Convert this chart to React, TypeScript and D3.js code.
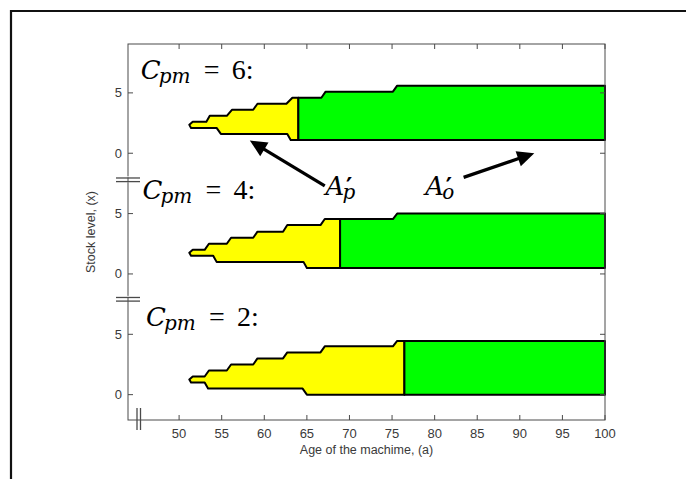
import React from "react";
import * as d3 from "d3";

// ---------- data ----------
const ageTicks = [50, 55, 60, 65, 70, 75, 80, 85, 90, 95, 100];
const levelTicks = [0, 5];
const panelCpm = [2, 4, 6];
const panelOffset = [0, 10, 20];

// Cpm = 2
const upperAges2 = [51.2, 51.6, 53.0, 53.5, 55.6, 56.1, 58.7, 59.2, 62.2, 62.7, 66.6, 67.1, 75.1, 75.6, 100];
const upperLevels2 = [1.25, 1.5, 1.5, 2.0, 2.0, 2.5, 2.5, 3.0, 3.0, 3.5, 3.5, 4.0, 4.0, 4.45, 4.45];
const lowerAges2 = [51.2, 51.4, 53.0, 53.4, 64.5, 65.0, 100];
const lowerLevels2 = [1.25, 1.0, 1.0, 0.5, 0.5, 0.0, 0.0];
const switch2 = 76.45;

// Cpm = 4
const upperAges4 = [51.2, 51.6, 53.0, 53.5, 55.6, 56.1, 58.7, 59.2, 62.2, 62.7, 66.6, 67.1, 75.1, 75.6, 100];
const upperLevels4 = [1.75, 2.0, 2.0, 2.5, 2.5, 3.0, 3.0, 3.5, 3.5, 4.05, 4.05, 4.55, 4.55, 5.0, 5.0];
const lowerAges4 = [51.2, 51.4, 54.0, 54.4, 64.6, 65.0, 100];
const lowerLevels4 = [1.75, 1.5, 1.5, 1.0, 1.0, 0.5, 0.5];
const switch4 = 68.9;

// Cpm = 6
const upperAges6 = [51.2, 51.6, 53.2, 53.6, 55.6, 56.2, 58.7, 59.2, 62.6, 63.3, 66.7, 67.2, 75.1, 75.6, 100];
const upperLevels6 = [2.35, 2.6, 2.6, 3.1, 3.1, 3.6, 3.6, 4.1, 4.1, 4.6, 4.6, 5.1, 5.1, 5.6, 5.6];
const lowerAges6 = [51.2, 51.4, 54.4, 54.9, 62.7, 63.1, 100];
const lowerLevels6 = [2.35, 2.1, 2.1, 1.6, 1.6, 1.1, 1.1];
const switch6 = 64.0;

const panels = [
  { ua: upperAges2, ul: upperLevels2, la: lowerAges2, ll: lowerLevels2, sw: switch2 },
  { ua: upperAges4, ul: upperLevels4, la: lowerAges4, ll: lowerLevels4, sw: switch4 },
  { ua: upperAges6, ul: upperLevels6, la: lowerAges6, ll: lowerLevels6, sw: switch6 },
];

// annotation anchors (data coords: age, stacked level)
const cpmLabelAge = [46.1, 45.7, 45.5];
const cpmLabelLevel = [5.65, 16.2, 26.15];
const arrowTailAge = [67.1, 83.4];
const arrowTailLevel = [17.3, 18.0];
const arrowHeadAge = [58.3, 91.7];
const arrowHeadLevel = [21.05, 20.0];
const primeLabelAge = [67.2, 78.9];
const primeLabelLevel = [16.5, 16.5];
const primeLabelSub = ["p", "o"];

// ---------- layout ----------
const W = 686;
const H = 479;
const x = d3.scaleLinear().domain([44, 100]).range([128, 605]);
const y = d3.scaleLinear().domain([-2.1, 29.05]).range([420, 44]);

const axisColor = "#4a4a4a";
const textColor = "#3a3a3a";
const italicFont = "'DejaVu Serif', serif";
const uprightFont = "'Liberation Serif', 'DejaVu Serif', serif";
const axisFont = "'Liberation Sans', Arial, sans-serif";

function buildPolys(p: any, off: number) {
  const up = d3.scaleLinear().domain(p.ua).range(p.ul);
  const lo = d3.scaleLinear().domain(p.la).range(p.ll);
  const U: [number, number][] = p.ua.map((a: number, i: number) => [a, p.ul[i]]);
  const L: [number, number][] = p.la.map((a: number, i: number) => [a, p.ll[i]]);
  const su: [number, number] = [p.sw, up(p.sw)];
  const sl: [number, number] = [p.sw, lo(p.sw)];
  const yellow = [
    ...U.filter((d) => d[0] < p.sw),
    su,
    sl,
    ...L.filter((d) => d[0] < p.sw).reverse(),
  ];
  const green = [su, ...U.filter((d) => d[0] > p.sw), ...L.filter((d) => d[0] > p.sw).reverse(), sl];
  const line = d3
    .line<[number, number]>()
    .x((d) => x(d[0]))
    .y((d) => y(d[1] + off));
  return { yellow: line(yellow) + "Z", green: line(green) + "Z" };
}

function Arrow({ i }: { i: number }) {
  const x1 = x(arrowTailAge[i]);
  const y1 = y(arrowTailLevel[i]);
  const x2 = x(arrowHeadAge[i]);
  const y2 = y(arrowHeadLevel[i]);
  const ang = Math.atan2(y2 - y1, x2 - x1);
  const len = 17;
  const hw = 8;
  const bx = x2 - len * Math.cos(ang);
  const by = y2 - len * Math.sin(ang);
  const nx = -Math.sin(ang);
  const ny = Math.cos(ang);
  const head = `M${x2},${y2}L${bx + nx * hw},${by + ny * hw}L${bx - nx * hw},${by - ny * hw}Z`;
  return (
    <g>
      <line x1={x1} y1={y1} x2={bx + 2 * Math.cos(ang)} y2={by + 2 * Math.sin(ang)} stroke="#000" strokeWidth={3.2} />
      <path d={head} fill="#000" />
    </g>
  );
}

export default function App() {
  const x0 = x(44);
  const x1 = x(100);
  const yTop = y(29.05);
  const yBot = y(-2.1);
  return (
    <svg width={W} height={H} style={{ position: "absolute", left: 0, top: 0, background: "#fff" }}>
      <rect x={0} y={0} width={W} height={H} fill="#fff" />
      {/* outer frame */}
      <line x1={10} y1={11} x2={W} y2={11} stroke="#111" strokeWidth={2.2} />
      <line x1={11} y1={10} x2={11} y2={H} stroke="#111" strokeWidth={2.2} />

      {/* areas */}
      {panels.map((p, k) => {
        const polys = buildPolys(p, panelOffset[k]);
        return (
          <g key={k} stroke="#000" strokeWidth={2} strokeLinejoin="round">
            <path d={polys.yellow} fill="#ffff00" />
            <path d={polys.green} fill="#00ff00" />
          </g>
        );
      })}

      {/* axes box */}
      <rect x={x0} y={yTop} width={x1 - x0} height={yBot - yTop} fill="none" stroke={axisColor} strokeWidth={1} />
      {ageTicks.map((t) => (
        <g key={"xt" + t}>
          <line x1={x(t)} x2={x(t)} y1={yBot} y2={yBot - 5} stroke={axisColor} />
          <line x1={x(t)} x2={x(t)} y1={yTop} y2={yTop + 5} stroke={axisColor} />
          <text x={x(t)} y={yBot + 18} textAnchor="middle" fontFamily={axisFont} fontSize={13} fill={textColor}>
            {t}
          </text>
        </g>
      ))}
      {panelOffset.map((off, k) =>
        levelTicks.map((t) => (
          <g key={"yt" + k + t}>
            <line x1={x0} x2={x0 + 5} y1={y(t + off)} y2={y(t + off)} stroke={axisColor} />
            <line x1={x1} x2={x1 - 5} y1={y(t + off)} y2={y(t + off)} stroke={axisColor} />
            <text x={x0 - 6} y={y(t + off) + 4.5} textAnchor="end" fontFamily={axisFont} fontSize={13} fill={textColor}>
              {t}
            </text>
          </g>
        ))
      )}

      {/* axis breaks */}
      {[7.9, 17.8].map((lv, k) => (
        <g key={"br" + k}>
          <rect x={116} y={y(lv + 0.2) - 1} width={24} height={6} fill="#fff" />
          <line x1={116} x2={140} y1={y(lv + 0.15)} y2={y(lv + 0.15)} stroke={axisColor} strokeWidth={1.3} />
          <line x1={116} x2={140} y1={y(lv - 0.15)} y2={y(lv - 0.15)} stroke={axisColor} strokeWidth={1.3} />
          <line x1={x0} x2={x0} y1={y(lv + 0.2)} y2={y(lv - 0.2)} stroke={axisColor} />
        </g>
      ))}
      <rect x={135} y={408} width={7} height={22} fill="#fff" />
      <line x1={137} x2={137} y1={408} y2={430} stroke={axisColor} strokeWidth={1.3} />
      <line x1={140.5} x2={140.5} y1={408} y2={430} stroke={axisColor} strokeWidth={1.3} />
      <line x1={135} x2={142} y1={yBot} y2={yBot} stroke={axisColor} />

      {/* axis labels */}
      <text x={(x0 + x1) / 2} y={454} textAnchor="middle" fontFamily={axisFont} fontSize={12.5} fill={textColor}>
        Age of the machime, (a)
      </text>
      <text
        transform={`translate(95,${(yTop + yBot) / 2}) rotate(-90)`}
        textAnchor="middle"
        fontFamily={axisFont}
        fontSize={12.5}
        fill={textColor}
      >
        Stock level, (x)
      </text>

      {/* C_pm labels */}
      {panelCpm.map((c, k) => {
        const ax = x(cpmLabelAge[k]);
        const ay = y(cpmLabelLevel[k]);
        return (
          <text key={"cpm" + k} x={ax} y={ay} fill="#000" fontFamily={uprightFont} fontSize={28}>
            <tspan fontFamily={italicFont} fontStyle="italic" fontSize={26}>C</tspan>
            <tspan x={ax + 18} y={ay + 4} fontFamily={italicFont} fontStyle="italic" fontSize={20}>pm</tspan>
            <tspan x={ax + 63} y={ay}>=</tspan>
            <tspan x={ax + 91} y={ay}>{c + ":"}</tspan>
          </text>
        );
      })}

      {/* A' labels */}
      {primeLabelSub.map((s, k) => {
        const ax = x(primeLabelAge[k]);
        const ay = y(primeLabelLevel[k]);
        return (
          <text key={"ap" + k} x={ax} y={ay} fill="#000" fontFamily={italicFont} fontSize={26} fontStyle="italic">
            <tspan>A</tspan>
            <tspan x={ax + 20.5} y={ay - 0.5} fontSize={24} fontStyle="normal" fontWeight="bold">′</tspan>
            <tspan x={ax + 17} y={ay + 4} fontSize={20}>{s}</tspan>
          </text>
        );
      })}

      <Arrow i={0} />
      <Arrow i={1} />
    </svg>
  );
}
